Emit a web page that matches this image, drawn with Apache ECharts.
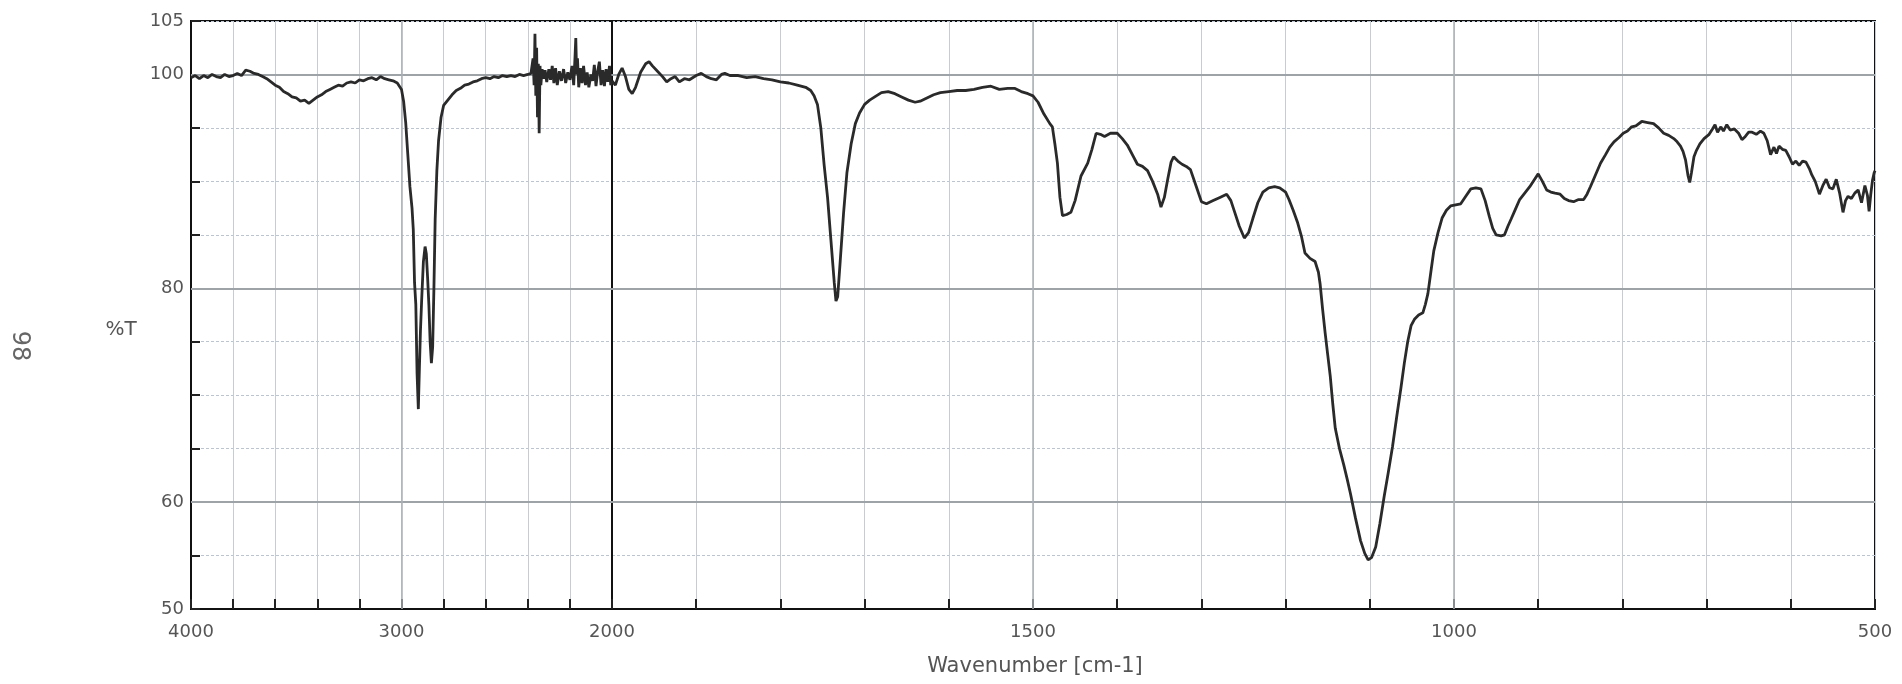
<!DOCTYPE html>
<html>
<head>
<meta charset="utf-8">
<script src="https://cdn.jsdelivr.net/npm/echarts@6/dist/echarts.min.js"></script>
<style>
html,body{margin:0;padding:0;background:#fff;}
#chart{width:1902px;height:684px;}
</style>
</head>
<body>
<div id="chart"></div>
<script>
// ---- data ----
const wavenumber = [
4000,3980,3960,3940,3920,3900,3880,3860,3840,3820,3800,3780,3760,3740,3720,3700,3680,3660,3640,3620,
3600,3580,3560,3540,3520,3500,3480,3460,3440,3420,3400,3380,3360,3340,3320,3300,3280,3260,3240,3220,
3200,3180,3160,3140,3120,3100,3080,3060,3040,3020,3000,2990,2980,2970,2960,2950,2944,2938,2932,2926,
2920,2915,2910,2904,2896,2888,2882,2876,2870,2864,2858,2852,2846,2840,2832,2824,2812,2800,2780,2760,
2740,2720,2700,2680,2660,2640,2620,2600,2580,2560,2540,2520,2500,2480,2460,2440,2420,2400,2385,2375,
2370,2366,2362,2358,2354,2350,2346,2342,2338,2332,2325,2318,2310,2300,2292,2284,2276,2268,2260,2250,
2240,2230,2220,2210,2200,2190,2182,2176,2172,2168,2164,2158,2150,2142,2135,2126,2118,2110,2100,2092,
2084,2076,2068,2060,2052,2044,2036,2028,2020,2012,2006,2000,
1996,1992,1988,1984,1980,1976,1972,1966,1960,1956,1952,1946,1940,1935,1930,1925,1920,1914,1908,1900,
1894,1888,1882,1876,1870,1866,1860,1850,1840,1830,1820,1810,1800,1790,1780,1770,1764,1760,1756,1752,
1748,1744,1740,1736,1734,1732,1729,1725,1721,1716,1711,1706,1700,1694,1688,1680,1672,1664,1656,1648,
1640,1634,1626,1618,1610,1600,1590,1580,1570,1560,1550,1540,1530,1522,1514,1506,1500,1494,1487,1480,
1477,1474,1471,1468,1465,1460,1455,1450,1443,1435,1430,1425,1420,1415,1408,1400,1394,1388,1382,1376,
1370,1364,1358,1352,1348,1344,1340,1336,1333,1328,1323,1318,1313,1306,1300,1294,1286,1278,1270,1265,
1260,1255,1249,1244,1239,1233,1227,1220,1213,1207,1200,1196,1191,1186,1181,1177,1171,1165,1161,1159,
1156,1153,1150,1147,1144,1141,1136,1131,1127,1123,1117,1111,1106,1102,1098,1093,1088,1083,1078,1073,
1068,1063,1059,1055,1051,1047,1042,1037,1034,1031,1027,1024,1019,1014,1009,1004,998,992,986,980,
974,968,963,958,954,950,944,940,936,932,927,922,916,910,905,900,895,890,885,880,
874,869,864,858,852,846,842,838,832,826,820,815,810,804,799,794,789,784,777,770,
763,757,751,745,739,735,731,728,725,722,720,718,715,712,708,703,697,693,690,687,
683,680,676,672,667,662,658,654,650,646,641,636,632,628,624,620,617,614,610,606,
602,598,594,590,586,582,578,575,571,568,566,562,558,554,550,546,542,538,535,532,
528,524,520,516,512,509,507,505,503,501,500
];
const transmittance = [
99.7,99.9,99.6,99.9,99.7,100.0,99.8,99.7,100.0,99.8,99.9,100.1,99.9,100.4,100.3,100.1,100.0,99.8,99.6,99.3,
99.0,98.8,98.4,98.2,97.9,97.8,97.5,97.6,97.3,97.6,97.9,98.1,98.4,98.6,98.8,99.0,98.9,99.2,99.3,99.2,
99.5,99.4,99.6,99.7,99.5,99.8,99.6,99.5,99.4,99.2,98.6,97.5,95.5,92.5,89.5,87.5,85.5,80.5,78.5,72.0,
68.7,72.5,76.0,79.0,82.5,83.9,83.2,81.0,78.5,75.0,73.0,74.5,80.0,86.5,91.0,93.8,96.0,97.1,97.6,98.1,
98.5,98.7,99.0,99.1,99.3,99.4,99.6,99.7,99.6,99.8,99.7,99.9,99.8,99.9,99.8,100.0,99.9,100.0,100.1,101.5,
99.0,103.8,98.0,102.5,96.0,101.0,94.5,100.8,99.0,100.5,99.6,100.4,99.3,100.5,99.5,100.8,99.2,100.6,99.0,100.3,
99.4,100.5,99.2,100.2,99.5,100.8,99.0,101.5,103.4,100.0,101.5,98.8,100.6,99.2,100.8,99.0,100.2,98.8,100.0,99.4,
100.9,98.9,100.3,101.2,99.0,100.4,98.9,100.5,99.3,100.8,99.0,99.4,
99.0,100.0,100.6,99.8,98.6,98.2,98.8,100.2,101.0,101.2,100.8,100.3,99.8,99.3,99.6,99.8,99.3,99.6,99.5,99.9,
100.1,99.8,99.6,99.5,100.0,100.1,99.9,99.9,99.7,99.8,99.6,99.5,99.3,99.2,99.0,98.8,98.5,98.0,97.2,95.0,
91.5,88.5,84.5,80.5,78.8,79.2,82.5,87.0,90.8,93.5,95.4,96.4,97.2,97.6,97.9,98.3,98.4,98.2,97.9,97.6,
97.4,97.5,97.8,98.1,98.3,98.4,98.5,98.5,98.6,98.8,98.9,98.6,98.7,98.7,98.4,98.2,98.0,97.4,96.3,95.4,
95.1,93.5,91.7,88.5,86.8,86.9,87.1,88.2,90.5,91.7,93.0,94.5,94.4,94.2,94.5,94.5,94.0,93.4,92.5,91.6,
91.4,91.0,90.0,88.8,87.6,88.5,90.2,91.8,92.3,91.9,91.6,91.4,91.1,89.5,88.1,87.9,88.2,88.5,88.8,88.2,
87.0,85.8,84.7,85.2,86.5,88.0,89.0,89.4,89.5,89.4,89.0,88.3,87.3,86.2,84.8,83.3,82.8,82.5,81.5,80.4,
78.0,75.8,73.8,71.8,69.2,66.9,65.0,63.5,62.2,60.8,58.5,56.4,55.2,54.6,54.8,55.8,58.0,60.5,62.8,65.2,
68.0,70.7,73.0,75.0,76.5,77.1,77.5,77.7,78.5,79.5,81.8,83.5,85.2,86.6,87.3,87.7,87.8,87.9,88.6,89.3,
89.4,89.3,88.2,86.7,85.6,85.0,84.9,85.0,85.8,86.5,87.4,88.3,88.9,89.5,90.1,90.7,90.0,89.2,89.0,88.9,
88.8,88.4,88.2,88.1,88.3,88.3,88.8,89.5,90.6,91.7,92.5,93.2,93.7,94.1,94.5,94.7,95.1,95.2,95.6,95.5,
95.4,95.0,94.5,94.3,94.0,93.7,93.3,92.8,92.0,90.5,89.9,90.8,92.3,92.9,93.5,94.0,94.4,94.9,95.3,94.6,
95.1,94.7,95.3,94.8,94.9,94.5,93.9,94.2,94.6,94.6,94.4,94.7,94.5,93.8,92.5,93.2,92.6,93.3,93.0,92.9,
92.3,91.6,91.9,91.5,91.9,91.8,91.2,90.6,90.0,89.3,88.8,89.6,90.2,89.4,89.3,90.2,88.9,87.1,88.2,88.6,
88.4,88.9,89.2,88.0,89.6,88.7,87.2,88.8,90.1,90.8,91.0
];
const xLabelsLeft = [4000, 3000, 2000];
const xLabelsRight = [1500, 1000, 500];
const yLabels = [50, 60, 80, 100, 105];
const yMajorLines = [100, 80, 60];
const xMajorLinesLeft = [3000];
const xMajorLinesRight = [1500, 1000];

// ---- build series data for the two axis segments ----
const leftData = [], rightData = [];
for (let i = 0; i < wavenumber.length; i++) {
  if (wavenumber[i] >= 2000) leftData.push([wavenumber[i], transmittance[i]]);
  if (wavenumber[i] <= 2000) rightData.push([wavenumber[i], transmittance[i]]);
}

const FONT = '"DejaVu Sans", Verdana, sans-serif';
const LABEL_COLOR = '#555';
const MINOR_GRID = '#bcc4cf';
const VGRID = '#c6ccd3';

function yAxisCfg(gridIndex, showLabels) {
  return {
    type: 'value', gridIndex: gridIndex, min: 50, max: 105, interval: 5,
    axisLine: { show: true, lineStyle: { color: '#111', width: 2 } },
    axisTick: { show: showLabels, inside: true, length: 9, lineStyle: { color: '#222', width: 2 } },
    axisLabel: {
      show: showLabels, margin: 7, color: LABEL_COLOR, fontFamily: FONT, fontSize: 18,
      formatter: v => yLabels.indexOf(v) >= 0 ? String(v) : ''
    },
    splitLine: { show: true, lineStyle: { color: MINOR_GRID, width: 1, type: [3, 2] } }
  };
}

function xAxisCfg(gridIndex, min, max, interval, labels) {
  return {
    type: 'value', gridIndex: gridIndex, min: min, max: max, interval: interval, inverse: true,
    axisLine: { show: true, lineStyle: { color: '#111', width: 2 } },
    axisTick: { show: true, inside: true, length: 10, lineStyle: { color: '#222', width: 2 } },
    axisLabel: {
      show: true, margin: 14, color: LABEL_COLOR, fontFamily: FONT, fontSize: 18,
      showMinLabel: true, showMaxLabel: true,
      formatter: v => labels.indexOf(v) >= 0 ? String(v) : ''
    },
    splitLine: { show: true, lineStyle: { color: VGRID, width: 1 } }
  };
}

function markLines(xs) {
  const d = yMajorLines.map(v => ({ yAxis: v, lineStyle: { color: '#9ea3a8', width: 2, type: 'solid' } }));
  xs.forEach(v => d.push({ xAxis: v, lineStyle: { color: '#aab0b6', width: 1.5, type: 'solid' } }));
  return { silent: true, symbol: 'none', label: { show: false }, animation: false, data: d, z: 1 };
}

const chart = echarts.init(document.getElementById('chart'), null, { renderer: 'canvas' });
chart.setOption({
  animation: false,
  backgroundColor: '#ffffff',
  grid: [
    { left: 191, top: 21, width: 421, height: 588, show: true, borderColor: '#111', borderWidth: 2, backgroundColor: 'transparent' },
    { left: 612, top: 21, width: 1263, height: 588, show: true, borderColor: '#111', borderWidth: 2, backgroundColor: 'transparent' }
  ],
  xAxis: [
    xAxisCfg(0, 2000, 4000, 200, xLabelsLeft),
    xAxisCfg(1, 500, 2000, 100, xLabelsRight)
  ],
  yAxis: [ yAxisCfg(0, true), yAxisCfg(1, false) ],
  series: [
    { type: 'line', xAxisIndex: 0, yAxisIndex: 0, data: leftData, showSymbol: false, smooth: false,
      lineStyle: { color: '#2a2a2a', width: 2.8 }, markLine: markLines(xMajorLinesLeft), z: 3 },
    { type: 'line', xAxisIndex: 1, yAxisIndex: 1, data: rightData, showSymbol: false, smooth: false,
      lineStyle: { color: '#2a2a2a', width: 2.8 }, markLine: markLines(xMajorLinesRight), z: 3 }
  ],
  graphic: [
    { type: 'text', x: 121, y: 330, style: { text: '%T', fill: LABEL_COLOR, font: '20px ' + FONT, align: 'center', verticalAlign: 'middle' } },
    { type: 'text', x: 1035, y: 667, style: { text: 'Wavenumber [cm-1]', fill: LABEL_COLOR, font: '21px ' + FONT, align: 'center', verticalAlign: 'middle' } },
    { type: 'text', x: 19, y: 346, rotation: -Math.PI / 2, style: { text: '98', fill: '#666', font: '24px ' + FONT, align: 'center', verticalAlign: 'middle' } }
  ]
});
</script>
</body>
</html>
